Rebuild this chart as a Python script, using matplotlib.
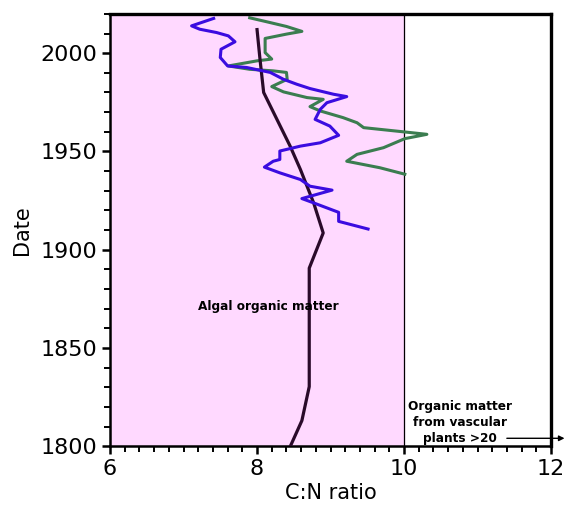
import matplotlib
matplotlib.use("Agg")
import matplotlib.pyplot as plt
from matplotlib.ticker import MultipleLocator

# Core C:N profiles (C:N ratio vs date)
dark_cn = [8.00, 8.04, 8.09, 8.45, 8.59, 8.77, 8.90, 8.71, 8.71, 8.61, 8.45]
dark_year = [2012, 1997, 1980, 1952.7, 1940.8, 1923.8, 1908.5, 1890.6, 1830.3, 1813, 1799.7]

blue_cn = [7.41, 7.11, 7.22, 7.45, 7.61, 7.70, 7.51, 7.50, 7.60, 7.86, 8.18, 8.36,
           8.54, 8.72, 9.04, 9.22, 8.95, 8.86, 8.79, 8.99, 9.11, 8.86, 8.59, 8.31,
           8.31, 8.22, 8.10, 8.31, 8.59, 8.72, 9.02, 8.61, 8.77, 9.11, 9.11, 9.51]
blue_year = [2017.7, 2013.9, 2012.2, 2010.5, 2008.8, 2005.8, 2002, 1997.8, 1993.5,
             1992.7, 1990.2, 1986.7, 1984.2, 1982, 1979.1, 1977.9, 1974.8, 1971.4,
             1966.3, 1962.9, 1958.2, 1954.4, 1952.7, 1950.2, 1945.9, 1945, 1942,
             1939.1, 1935.7, 1932.3, 1930.3, 1926, 1923.8, 1919, 1914.4, 1910.5]

green_cn = [7.90, 8.13, 8.40, 8.61, 8.40, 8.11, 8.11, 8.20, 8.00, 7.61, 7.90, 8.22,
            8.40, 8.41, 8.20, 8.36, 8.68, 8.90, 8.72, 8.86, 9.17, 9.36, 9.45, 10.01,
            10.31, 10.01, 9.72, 9.36, 9.22, 9.67, 10.01]
green_year = [2018, 2016, 2013.6, 2011.1, 2009.7, 2007.5, 2000.3, 1997, 1996.1,
              1993.5, 1991.8, 1991, 1990.2, 1986.7, 1983, 1980.3, 1977.4, 1976.5,
              1972.8, 1970.6, 1967.2, 1964.6, 1962.1, 1959.9, 1958.7, 1956.5,
              1951.9, 1948.5, 1945, 1941.7, 1938.4]

algal_limit = 10
x_range = (6, 12)
y_range = (1800, 2020)

fig = plt.figure(figsize=(5.67, 5.14), dpi=100)
ax = fig.add_axes([0.194, 0.132, 0.778, 0.841])

ax.axvspan(x_range[0], algal_limit, color='#ffd9ff', zorder=0)
ax.axvline(algal_limit, color='black', lw=0.9, zorder=1)

ax.plot(dark_cn, dark_year, color='#2a0a2a', lw=2.3, zorder=3)
ax.plot(blue_cn, blue_year, color='#3a0ce0', lw=2.2, zorder=4)
ax.plot(green_cn, green_year, color='#3b7d50', lw=2.2, zorder=2)

ax.set_xlim(*x_range)
ax.set_ylim(*y_range)
ax.xaxis.set_major_locator(MultipleLocator(2))
ax.xaxis.set_minor_locator(MultipleLocator(0.2))
ax.yaxis.set_major_locator(MultipleLocator(50))
ax.yaxis.set_minor_locator(MultipleLocator(10))
ax.tick_params(which='major', direction='out', length=6, width=1.8, labelsize=16, pad=3)
ax.tick_params(which='minor', direction='out', length=4, width=1.4)

for side in ['left', 'bottom']:
    ax.spines[side].set_linewidth(1.8)
for side in ['top', 'right']:
    ax.spines[side].set_linewidth(2.4)

ax.set_xlabel('C:N ratio', fontsize=15, labelpad=3)
ax.set_ylabel('Date', fontsize=15, labelpad=6)

ax.text(8.15, 1871, 'Algal organic matter', fontsize=8.7, fontweight='bold',
        ha='center', va='center')
ax.text(10.76, 1812, 'Organic matter\nfrom vascular\nplants >20', fontsize=8.7,
        fontweight='bold', ha='center', va='center', linespacing=1.3)
ax.annotate('', xy=(12.22, 1804), xytext=(11.36, 1804),
            arrowprops=dict(arrowstyle='-|>', color='black', lw=1.0,
                            mutation_scale=8),
            annotation_clip=False)

fig.savefig('out.png', dpi=100)
